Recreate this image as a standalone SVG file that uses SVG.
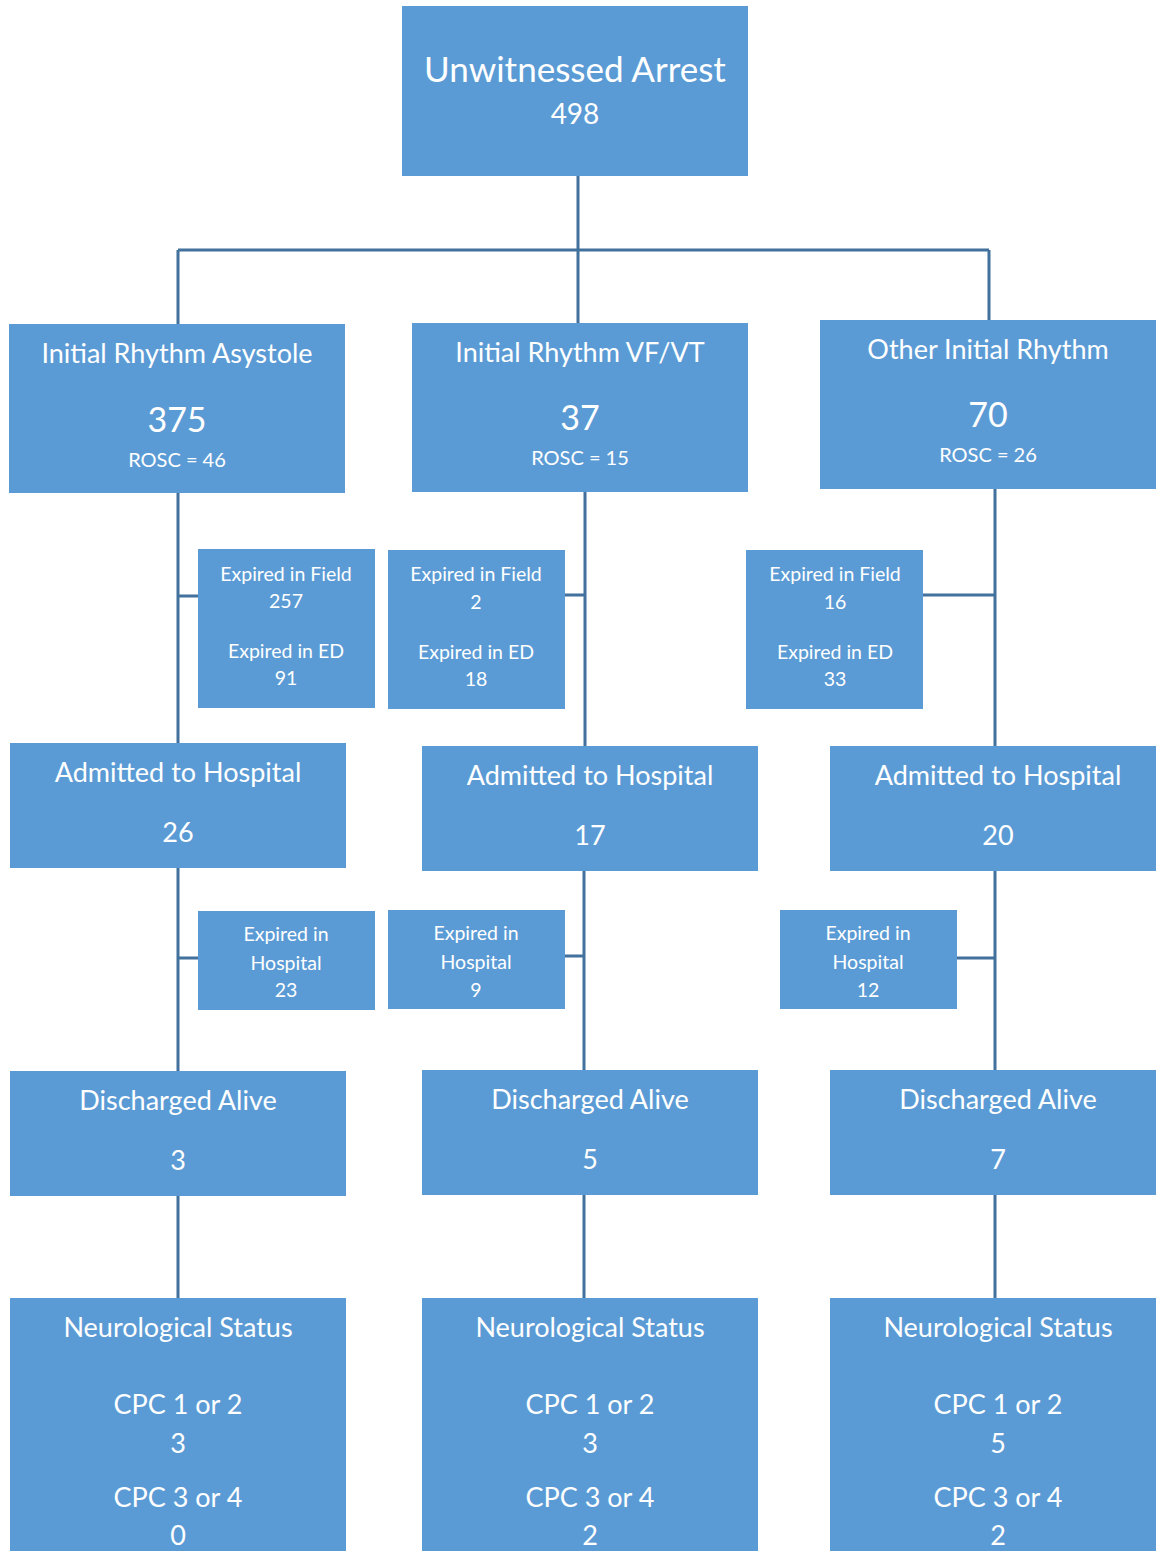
<svg xmlns="http://www.w3.org/2000/svg" width="1156" height="1551" viewBox="0 0 1156 1551">
<style>
.b{fill:#5B9BD5}
.c{stroke:#41719C;stroke-width:3;fill:none}
text{font-family:Lato,"Open Sans",sans-serif;fill:#fff;text-anchor:middle;dominant-baseline:central}
.t{font-size:27px}
.n{font-size:34px}
.s{font-size:20px}
.x{font-size:19.5px}
</style>
<rect width="1156" height="1551" fill="#fff"/>
<g id="connectors">
<path class="c" d="M578 176V250M178 250H989M178 250V324M578 250V323M989 250V320"/>
<path class="c" d="M178 493V743M178 596H198M585 492V746M565 595H585M995 489V746M923 595H995"/>
<path class="c" d="M178 868V1071M178 958H198M584 871V1070M565 956H584M995 871V1070M957 958H995"/>
<path class="c" d="M178 1196V1298M584 1195V1298M995 1195V1298"/>
</g>
<g id="n0"><rect class="b" x="402" y="6" width="346" height="170"/><text x="575" y="68" style="font-size:35px">Unwitnessed Arrest</text><text x="575" y="113" style="font-size:28px">498</text></g>
<g id="a1"><rect class="b" x="9" y="324" width="336" height="169"/><text class="t" x="177" y="352">Initial Rhythm Asystole</text><text class="n" x="177" y="418">375</text><text class="s" x="177" y="459">ROSC = 46</text></g>
<g id="b1"><rect class="b" x="412" y="323" width="336" height="169"/><text class="t" x="580" y="351">Initial Rhythm VF/VT</text><text class="n" x="580" y="416">37</text><text class="s" x="580" y="457">ROSC = 15</text></g>
<g id="c1"><rect class="b" x="820" y="320" width="336" height="169"/><text class="t" x="988" y="348">Other Initial Rhythm</text><text class="n" x="988" y="413">70</text><text class="s" x="988" y="454">ROSC = 26</text></g>
<g id="a2"><rect class="b" x="198" y="549" width="177" height="159"/><text class="x" x="286" y="573">Expired in Field</text><text class="x" x="286" y="600">257</text><text class="x" x="286" y="650">Expired in ED</text><text class="x" x="286" y="677">91</text></g>
<g id="b2"><rect class="b" x="388" y="550" width="177" height="159"/><text class="x" x="476" y="573">Expired in Field</text><text class="x" x="476" y="601">2</text><text class="x" x="476" y="651">Expired in ED</text><text class="x" x="476" y="678">18</text></g>
<g id="c2"><rect class="b" x="746" y="550" width="177" height="159"/><text class="x" x="835" y="573">Expired in Field</text><text class="x" x="835" y="601">16</text><text class="x" x="835" y="651">Expired in ED</text><text class="x" x="835" y="678">33</text></g>
<g id="a3"><rect class="b" x="10" y="743" width="336" height="125"/><text class="t" x="178" y="771">Admitted to Hospital</text><text class="t" x="178" y="831">26</text></g>
<g id="b3"><rect class="b" x="422" y="746" width="336" height="125"/><text class="t" x="590" y="774">Admitted to Hospital</text><text class="t" x="590" y="834">17</text></g>
<g id="c3"><rect class="b" x="830" y="746" width="326" height="125"/><text class="t" x="998" y="774">Admitted to Hospital</text><text class="t" x="998" y="834">20</text></g>
<g id="a4"><rect class="b" x="198" y="911" width="177" height="99"/><text class="x" x="286" y="933">Expired in</text><text class="x" x="286" y="962">Hospital</text><text class="x" x="286" y="989">23</text></g>
<g id="b4"><rect class="b" x="388" y="910" width="177" height="99"/><text class="x" x="476" y="932">Expired in</text><text class="x" x="476" y="961">Hospital</text><text class="x" x="476" y="989">9</text></g>
<g id="c4"><rect class="b" x="780" y="910" width="177" height="99"/><text class="x" x="868" y="932">Expired in</text><text class="x" x="868" y="961">Hospital</text><text class="x" x="868" y="989">12</text></g>
<g id="a5"><rect class="b" x="10" y="1071" width="336" height="125"/><text class="t" x="178" y="1099">Discharged Alive</text><text class="t" x="178" y="1159">3</text></g>
<g id="b5"><rect class="b" x="422" y="1070" width="336" height="125"/><text class="t" x="590" y="1098">Discharged Alive</text><text class="t" x="590" y="1158">5</text></g>
<g id="c5"><rect class="b" x="830" y="1070" width="326" height="125"/><text class="t" x="998" y="1098">Discharged Alive</text><text class="t" x="998" y="1158">7</text></g>
<g id="a6"><rect class="b" x="10" y="1298" width="336" height="253"/><text class="t" x="178" y="1326">Neurological Status</text><text class="t" x="178" y="1403">CPC 1 or 2</text><text class="t" x="178" y="1442">3</text><text class="t" x="178" y="1496">CPC 3 or 4</text><text class="t" x="178" y="1534">0</text></g>
<g id="b6"><rect class="b" x="422" y="1298" width="336" height="253"/><text class="t" x="590" y="1326">Neurological Status</text><text class="t" x="590" y="1403">CPC 1 or 2</text><text class="t" x="590" y="1442">3</text><text class="t" x="590" y="1496">CPC 3 or 4</text><text class="t" x="590" y="1534">2</text></g>
<g id="c6"><rect class="b" x="830" y="1298" width="326" height="253"/><text class="t" x="998" y="1326">Neurological Status</text><text class="t" x="998" y="1403">CPC 1 or 2</text><text class="t" x="998" y="1442">5</text><text class="t" x="998" y="1496">CPC 3 or 4</text><text class="t" x="998" y="1534">2</text></g>
</svg>
